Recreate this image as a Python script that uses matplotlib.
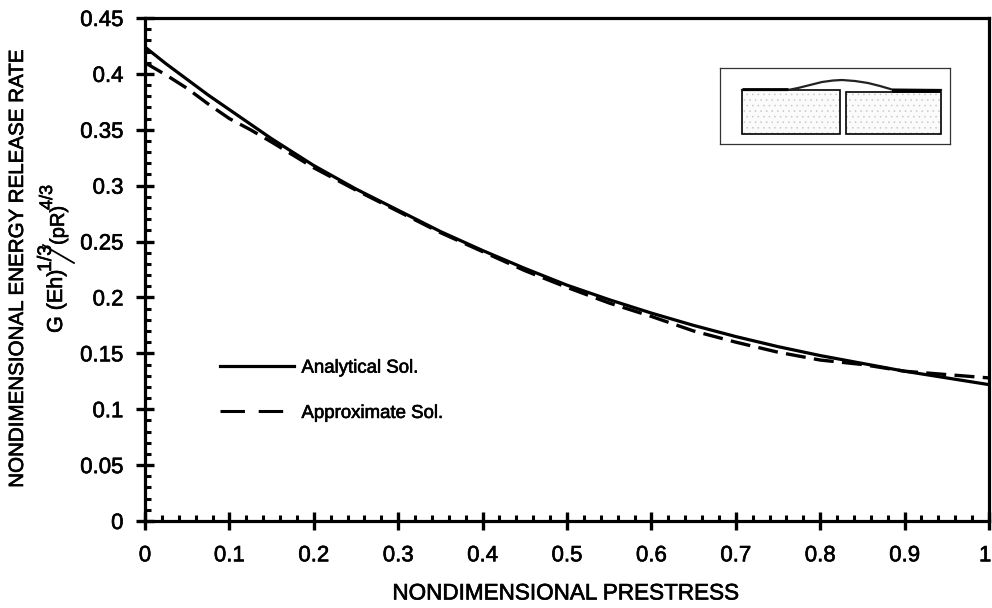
import matplotlib
matplotlib.use("Agg")
import matplotlib.pyplot as plt
import matplotlib.patheffects as pe
from matplotlib.lines import Line2D
from matplotlib.patches import Rectangle
from matplotlib.ticker import MultipleLocator, FixedLocator
from matplotlib.transforms import ScaledTranslation

plt.rcParams['font.family'] = ['Liberation Sans', 'DejaVu Sans']

prestress = [0, .025, .05, .075, .1, .125, .15, .2, .25, .3, .35, .4, .45, .5, .55, .6, .65, .7, .75, .8, .85, .9, .95, 1]
analytical = [.424, .409, .395, .381, .368, .355, .342, .318, .297, .278, .259, .242, .226, .211, .198, .186, .175, .165, .156, .148, .141, .134, .128, .122]
approximate = [.41, .399, .387, .373, .360, .350, .339, .316, .296, .277, .258, .241, .224, .209, .195, .183, .170, .160, .151, .144, .140, .134, .131, .128]

x_ticks = [0, .1, .2, .3, .4, .5, .6, .7, .8, .9, 1]
x_labels = ['0', '0.1', '0.2', '0.3', '0.4', '0.5', '0.6', '0.7', '0.8', '0.9', '1']
y_ticks = [0, .05, .1, .15, .2, .25, .3, .35, .4, .45]
y_labels = ['0', '0.05', '0.1', '0.15', '0.2', '0.25', '0.3', '0.35', '0.4', '0.45']

W, H = 992, 608
heavy = [pe.withStroke(linewidth=.45, foreground='black')]
fig = plt.figure(figsize=(W / 100, H / 100), dpi=100)
L, R, T, B = 145, 989, 18, 521
ax = fig.add_axes([L / W, 1 - B / H, (R - L) / W, (B - T) / H])
ax.set_xlim(0, 1)
ax.set_ylim(0, .45)

ax.plot(prestress, analytical, color='black', lw=2.3, zorder=3)
ax.plot(prestress, approximate, color='black', lw=2.4, dashes=(6, 2.5), zorder=3)

for s in ax.spines.values():
    s.set_linewidth(2.3)
ax.xaxis.set_major_locator(FixedLocator(x_ticks))
ax.yaxis.set_major_locator(FixedLocator(y_ticks))
ax.set_xticklabels(x_labels)
ax.set_yticklabels(y_labels)
ax.xaxis.set_minor_locator(MultipleLocator(.02))
ax.yaxis.set_minor_locator(MultipleLocator(.01))
ax.tick_params(axis='both', which='major', direction='inout', length=13, width=2.4, labelsize=16)
ax.tick_params(axis='x', which='major', pad=11)
ax.tick_params(axis='y', which='major', pad=9)
ax.tick_params(axis='both', which='minor', direction='in', length=4.5, width=2.2)
for lab in ax.get_xticklabels() + ax.get_yticklabels():
    lab.set_path_effects(heavy)
last = ax.get_xticklabels()[-1]
last.set_ha('right')
last.set_transform(last.get_transform() + ScaledTranslation(2.5 / 100, 0, fig.dpi_scale_trans))


def label(x, y, s, size, **kw):
    return fig.text(x / W, 1 - y / H, s, fontsize=size, path_effects=heavy, **kw)


label(566, 594, 'NONDIMENSIONAL PRESTRESS', 16.2, ha='center', va='center')
label(17.5, 270, 'NONDIMENSIONAL ENERGY RELEASE RATE', 14.8, rotation=90, ha='center', va='center')

# y-label fraction, drawn piece by piece
label(67, 333, 'G (Eh)', 15.5, rotation=90, ha='right', va='bottom')
label(55, 272, '1/3', 14, rotation=90, ha='right', va='bottom')
label(68, 245, '(pR)', 14.5, rotation=90, ha='right', va='bottom')
label(56, 210, '4/3', 13, rotation=90, ha='right', va='bottom')
fig.add_artist(Line2D([43 / W, 74 / W], [1 - 245 / H, 1 - 263 / H], color='black', lw=1.3, transform=fig.transFigure))

handles = [
    Line2D([], [], color='black', lw=2.3),
    Line2D([], [], color='black', lw=2.2, dashes=(8, 4.5)),
]
leg = ax.legend(handles, ['Analytical Sol.', 'Approximate Sol.'], frameon=False, fontsize=13.4,
                handlelength=4.0, handletextpad=.4, labelspacing=1.52,
                loc='upper left', bbox_to_anchor=((214 - L) / (R - L), 1 - (354 - T) / (B - T)),
                borderaxespad=0, borderpad=.3)
for t in leg.get_texts():
    t.set_path_effects(heavy)

# Inset schematic, in its own 0-230 by 0-76 coordinates
inset_box = [720, 950, 68, 144]
left_block = (22, 10, 98, 44)
right_block = (126, 10, 95, 42)
film_x = [22, 68, 78, 90, 102, 113, 122, 135, 148, 160, 172, 221]
film_y = [54, 54, 56, 59, 62, 63.5, 64, 63, 61, 58, 54.5, 54]
film_left = ([22, 68], [54.6, 54.6])
film_right = ([172, 221], [53, 53])

ins = fig.add_axes([inset_box[0] / W, 1 - inset_box[3] / H, (inset_box[1] - inset_box[0]) / W, (inset_box[3] - inset_box[2]) / H])
ins.set_xlim(0, 230)
ins.set_ylim(0, 76)
ins.set_xticks([])
ins.set_yticks([])
for s in ins.spines.values():
    s.set_linewidth(.9)
    s.set_color('#333333')
plt.rcParams['hatch.linewidth'] = .4
for x0, y0, w, h in (left_block, right_block):
    ins.add_patch(Rectangle((x0, y0), w, h, facecolor='#fbfbfb', edgecolor='#c8c8c8', hatch='...', lw=0))
    ins.add_patch(Rectangle((x0, y0), w, h, fill=False, edgecolor='black', lw=1.2))
ins.plot(film_x, film_y, color='#222222', lw=1.6)
ins.plot(*film_left, color='black', lw=2.0, solid_capstyle='butt')
ins.plot(*film_right, color='black', lw=2.6, solid_capstyle='butt')

fig.savefig('out.png', dpi=100)
